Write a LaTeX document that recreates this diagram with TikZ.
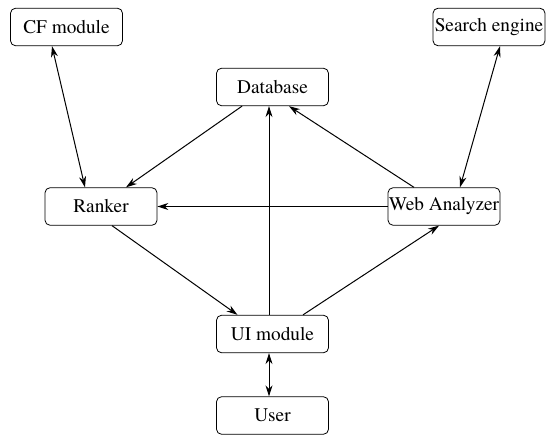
\documentclass[tikz,border=0pt]{standalone}
\usepackage{fontspec}
\newfontfamily\tms{texgyretermes-regular.otf}
\usetikzlibrary{arrows.meta}
\begin{document}
\begin{tikzpicture}[x=1pt,y=-1pt,
  box/.style={draw, line width=0.8pt, rounded corners=5pt, minimum width=112pt, minimum height=37.5pt, inner sep=0pt, font=\tms\fontsize{19.3}{21}\selectfont},
  arr/.style={line width=1pt, -{Stealth[length=11pt,width=7pt]}},
  biarr/.style={line width=1pt, {Stealth[length=11pt,width=7pt]}-{Stealth[length=11pt,width=7pt]}}]
\useasboundingbox (0,0) rectangle (548,435);
\node[box] (cf) at (66.5,27) {CF module};
\node[box] (se) at (489,27) {Search engine};
\node[box] (db) at (272.5,87) {Database};
\node[box] (rk) at (101,206.5) {Ranker};
\node[box] (wa) at (444,206.5) {Web Analyzer};
\node[box] (ui) at (272.5,334) {UI module};
\node[box] (us) at (272.5,415.5) {User};
\draw[biarr] ([xshift=-14.5pt]cf.south) -- ([xshift=-16pt]rk.north);
\draw[biarr] ([xshift=11pt]se.south) -- ([xshift=16pt]wa.north);
\draw[arr] ([xshift=-30.5pt]db.south) -- ([xshift=25pt]rk.north);
\draw[arr] ([xshift=-30pt]wa.north) -- ([xshift=16.5pt]db.south);
\draw[arr] (wa.west) -- (rk.east);
\draw[arr] ([xshift=-3.5pt]ui.north) -- ([xshift=-3.5pt]db.south);
\draw[arr] ([xshift=11pt]rk.south) -- ([xshift=-35pt]ui.north);
\draw[arr] ([xshift=30.5pt]ui.north) -- ([xshift=-5pt]wa.south);
\draw[biarr] ([xshift=-3.5pt]ui.south) -- ([xshift=-3.5pt]us.north);
\end{tikzpicture}
\end{document}
